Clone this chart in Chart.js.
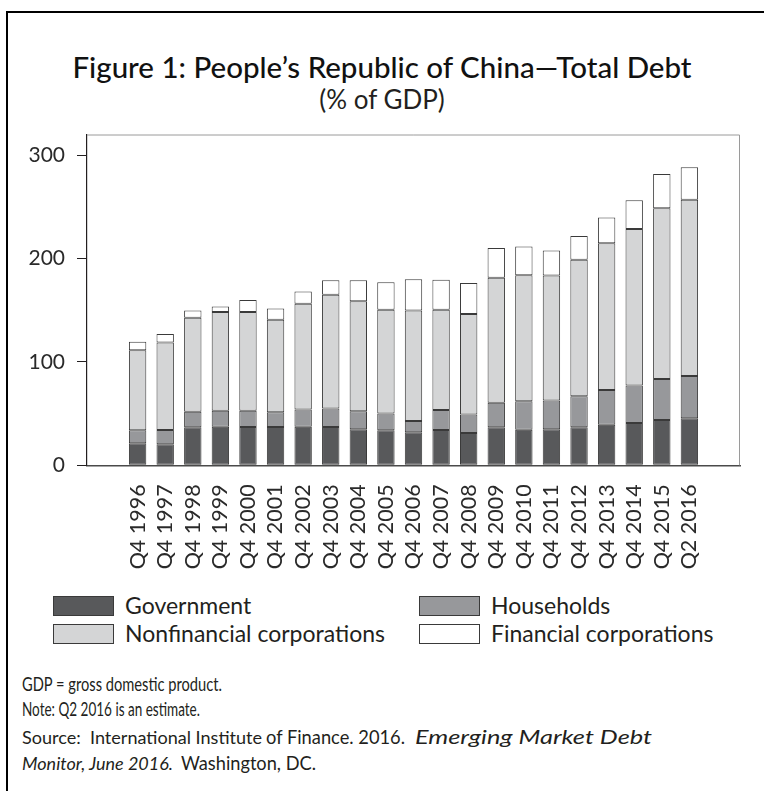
<!DOCTYPE html>
<html>
<head>
<meta charset="utf-8">
<script src="https://cdn.jsdelivr.net/npm/chart.js@4.4.1/dist/chart.umd.min.js"></script>
<style>
  html, body { margin:0; padding:0; background:#fff; }
  body { width:764px; height:791px; overflow:hidden; position:relative; font-family: Lato, "Open Sans", sans-serif; color:#231f20; }
  #frame { position:absolute; left:6px; top:11px; width:820px; height:820px; border-left:2px solid #000; border-top:2px solid #000; }
  #chartBox { position:absolute; left:0; top:0; width:764px; height:590px; }
  .title { position:absolute; left:0; width:764px; text-align:center; white-space:nowrap; line-height:1; }
  #t1 { top:52px; font-size:29.5px; font-weight:500; color:#111; }
  #t2 { top:86px; font-size:26px; color:#231f20; }
  #legend { position:absolute; left:0; top:0; }
  .li { position:absolute; height:20px; font-size:23px; line-height:1; white-space:nowrap; }
  .sw { position:absolute; left:0; top:0; width:59px; height:18px; border:1px solid #3a3a3a; }
  .lt { position:absolute; left:72px; top:-2px; }
  .fp { position:absolute; font-size:18px; line-height:1; white-space:nowrap; transform-origin:0 50%; }
</style>
</head>
<body>
<div id="frame"></div>
<div class="title" id="t1">Figure 1: People’s Republic of China—Total Debt</div>
<div class="title" id="t2">(% of GDP)</div>
<div id="chartBox"><canvas id="c"></canvas></div>
<div id="legend"></div>
<div id="foot">
  <span class="fp" data-l="22" data-r="222" data-c="685" style="font-size:18.5px">GDP = gross domestic product.</span>
  <span class="fp" data-l="22" data-r="200" data-c="710" style="font-size:18.5px">Note: Q2 2016 is an estimate.</span>
  <span class="fp" data-l="22" data-r="262" data-c="737">Source:&nbsp; International Institute</span>
  <span class="fp" data-l="266" data-r="405" data-c="737" style="font-size:20px">of Finance. 2016.</span>
  <span class="fp" data-l="415" data-r="652" data-c="737" style="font-size:19.5px"><i>Emerging Market Debt</i></span>
  <span class="fp" data-l="22" data-r="173" data-c="763"><i>Monitor, June 2016.</i></span>
  <span class="fp" data-l="181" data-r="316" data-c="763" style="font-size:20px">Washington, DC.</span>
</div>
<script>
const categories = ['Q4 1996','Q4 1997','Q4 1998','Q4 1999','Q4 2000','Q4 2001','Q4 2002','Q4 2003','Q4 2004','Q4 2005','Q4 2006','Q4 2007','Q4 2008','Q4 2009','Q4 2010','Q4 2011','Q4 2012','Q4 2013','Q4 2014','Q4 2015','Q2 2016'];
const government = [21.3,20.4,36.7,37.3,37.0,37.0,37.3,37.0,34.8,33.8,31.9,34.1,31.3,36.7,34.4,34.8,36.7,39.2,40.9,43.8,45.4];
const households = [12.5,13.7,15.0,15.4,15.7,14.4,16.7,18.0,17.6,16.4,10.9,19.3,17.9,23.7,27.6,27.9,30.1,33.7,36.2,39.7,40.9];
const nonfinancialCorporations = [77.5,84.7,91.1,95.6,95.6,89.5,102.3,109.9,106.4,100.3,107.0,97.1,97.1,121.1,121.8,120.8,132.0,142.0,151.6,165.1,170.6];
const financialCorporations = [8.1,8.3,7.0,5.4,11.5,10.8,11.8,14.1,20.2,26.6,30.2,29.1,30.1,28.6,27.9,24.4,23.1,24.7,27.6,33.3,31.5];
const yTickValues = [0,100,200,300];

const seriesNames = ['Government','Households','Nonfinancial corporations','Financial corporations'];
const seriesColors = ['#58595b','#97989b','#d4d5d6','#ffffff'];
const seriesValues = [government, households, nonfinancialCorporations, financialCorporations];

const toXY = arr => arr.map((v, i) => ({x: i, y: v}));

const framePlugin = {
  id: 'frame',
  afterDraw(chart) {
    const {ctx, chartArea: a} = chart;
    ctx.save();
    ctx.strokeStyle = '#9a9a9a';
    ctx.lineWidth = 1;
    ctx.beginPath();
    ctx.moveTo(a.left, a.top + 0.5);
    ctx.lineTo(a.right - 0.5, a.top + 0.5);
    ctx.lineTo(a.right - 0.5, a.bottom);
    ctx.stroke();
    ctx.restore();
  }
};

const xFont = { family: 'Lato, "Open Sans", sans-serif', size: 21.5 };
const yFont = { family: 'Lato, "Open Sans", sans-serif', size: 21 };

const chart = new Chart(document.getElementById('c'), {
  type: 'bar',
  data: {
    datasets: seriesValues.map((vals, k) => ({
      label: seriesNames[k],
      data: toXY(vals),
      backgroundColor: seriesColors[k],
      borderColor: '#3a3a3a',
      borderWidth: 1,
      borderSkipped: false,
      categoryPercentage: 0.63,
      barPercentage: 1
    }))
  },
  options: {
    responsive: true,
    maintainAspectRatio: false,
    animation: false,
    layout: { padding: { left: 0, right: 24, top: 134.5, bottom: 0 } },
    plugins: { legend: { display: false }, tooltip: { enabled: false }, title: { display: false } },
    scales: {
      x: {
        type: 'linear',
        stacked: true,
        min: -1.32,
        max: 21.32,
        grid: { display: true, drawOnChartArea: false, drawTicks: false, color: 'rgba(0,0,0,0)' },
        border: { display: true, color: '#4a4a4a', width: 1.5 },
        ticks: {
          stepSize: 1,
          includeBounds: false,
          autoSkip: false,
          minRotation: 90,
          maxRotation: 90,
          padding: 19,
          color: '#2a2a2a',
          font: xFont,
          callback: v => (Number.isInteger(v) && categories[v] !== undefined) ? categories[v] : ''
        },
        afterFit: s => { s.height = 590 - 465.3; }
      },
      y: {
        stacked: true,
        min: 0,
        max: 320,
        grid: { display: true, drawOnChartArea: false, drawTicks: true, tickLength: 10, color: '#231f20', lineWidth: 1 },
        border: { display: true, color: '#231f20', width: 1.2 },
        ticks: {
          stepSize: 100,
          includeBounds: false,
          padding: 12,
          color: '#2a2a2a',
          font: yFont
        },
        afterBuildTicks: s => { s.ticks = yTickValues.map(v => ({value: v})); },
        afterFit: s => { s.width = 87; }
      }
    }
  },
  plugins: [framePlugin]
});

// HTML legend built from the chart's datasets (2 x 2 grid)
const legend = document.getElementById('legend');
const colX = [53, 419], rowY = [596, 624];
chart.data.datasets.forEach((ds, k) => {
  const item = document.createElement('div');
  item.className = 'li';
  item.style.left = colX[k % 2] + 'px';
  item.style.top = rowY[Math.floor(k / 2)] + 'px';
  const sw = document.createElement('div');
  sw.className = 'sw';
  sw.style.background = ds.backgroundColor;
  const tx = document.createElement('div');
  tx.className = 'lt';
  tx.textContent = ds.label;
  item.appendChild(sw); item.appendChild(tx);
  legend.appendChild(item);
});

// footer text pieces fitted to the reference widths
document.querySelectorAll('.fp').forEach(el => {
  const l = +el.dataset.l, r = +el.dataset.r, c = +el.dataset.c;
  const fs = parseFloat(getComputedStyle(el).fontSize);
  el.style.left = l + 'px';
  el.style.top = (c - 0.527 * fs) + 'px';
  const w = el.getBoundingClientRect().width;
  if (w > 0) el.style.transform = 'scaleX(' + ((r - l) / w).toFixed(3) + ')';
});
</script>
</body>
</html>
